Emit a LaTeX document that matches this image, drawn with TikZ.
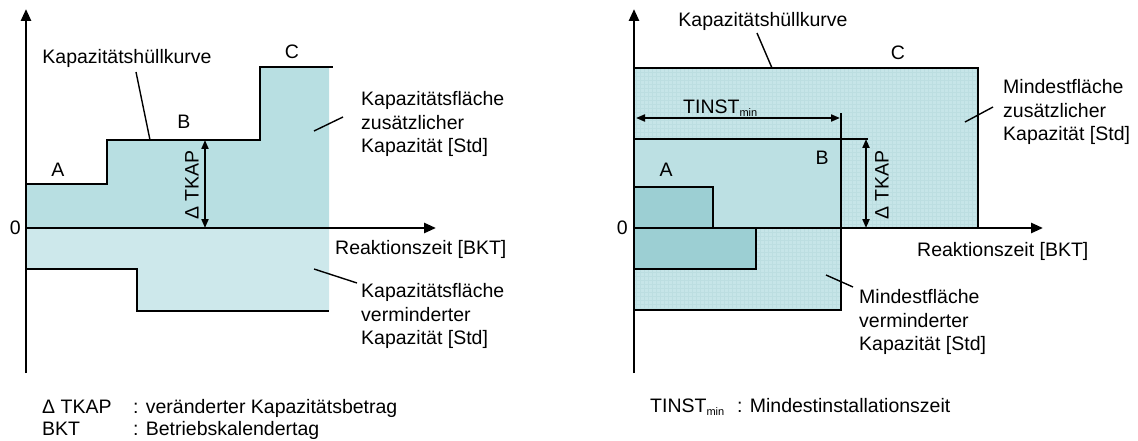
\documentclass[tikz,border=0pt]{standalone}
\usepackage{fontspec}
\setmainfont{Liberation Sans}
\usetikzlibrary{arrows.meta}
\definecolor{flaecheoben}{RGB}{184,223,226}
\definecolor{flaecheunten}{RGB}{205,232,235}
\definecolor{rasterfl}{RGB}{198,229,232}
\definecolor{rasterlin}{RGB}{188,222,225}
\definecolor{flaecheB}{RGB}{188,224,227}
\definecolor{flaecheA}{RGB}{156,207,211}

\begin{document}
\begin{tikzpicture}[x=1pt,y=-1pt]
\tikzstyle{every node}+=[inner sep=0pt,font=\fontsize{19.5}{23.5}\selectfont]
\tikzstyle{achse}=[line width=2.6pt,-{Triangle[length=12pt,width=10pt]}]
\tikzstyle{kurve}=[line width=2pt]
\tikzstyle{rahmen}=[line width=1.6pt]
\tikzstyle{zeiger}=[line width=1.4pt]
\tikzstyle{mass}=[line width=2pt,{Triangle[length=9pt,width=7pt]}-{Triangle[length=9pt,width=7pt]}]
\tikzstyle{mtxt}=[align=left,anchor=west]
\useasboundingbox (0,0) rectangle (1138,441);
\fill [flaecheoben] (26,228) -- (26,184) -- (107,184) -- (107,140) -- (260,140) -- (260,67) -- (329,67) -- (329,228) -- cycle;
\fill [flaecheunten] (26,228) -- (26,269) -- (137,269) -- (137,311) -- (329,311) -- (329,228) -- cycle;
\draw [kurve] (26,184) -- (107,184) -- (107,140) -- (260,140) -- (260,67) -- (333,67);
\draw [kurve] (26,269) -- (137,269) -- (137,311) -- (329,311);
\coordinate (lyu) at (26,373);
\coordinate (lyo) at (26,9);
\coordinate (lx0) at (26,228);
\coordinate (lxe) at (436,228);
\draw [achse] (lyu) -- (lyo);
\draw [achse] (lx0) -- (lxe);
\coordinate (ltko) at (205,140);
\coordinate (ltku) at (205,228);
\draw [mass] (ltko) -- (ltku);
\node (lA) at (58,170) {A};
\node (lB) at (184,122) {B};
\node (lC) at (292,52) {C};
\node (lnull) [anchor=east] at (21,228) {0};
\node (lhuelle) [anchor=base] at (127,64) {Kapazitätshüllkurve};
\node (ldtkap) [rotate=90] at (192,185) {Δ TKAP};
\node (lzeit) [anchor=base west] at (335,254) {Reaktionszeit [BKT]};
\node (lzus) [mtxt] at (361,124) {Kapazitätsfläche\\zusätzlicher\\Kapazität [Std]};
\node (lverm) [mtxt] at (361,316) {Kapazitätsfläche\\verminderter\\Kapazität [Std]};
\coordinate (lh1) at (136,72);
\coordinate (lh2) at (150,140);
\draw [zeiger] (lh1) -- (lh2);
\coordinate (lz1) at (314,131);
\coordinate (lz2) at (343,117);
\draw [zeiger] (lz1) -- (lz2);
\coordinate (lv1) at (314,269);
\coordinate (lv2) at (357,283);
\draw [zeiger] (lv1) -- (lv2);
\node (leg1a) [anchor=base west] at (42,413) {Δ TKAP};
\node (leg1b) [anchor=base west] at (133,413) {: veränderter Kapazitätsbetrag};
\node (leg2a) [anchor=base west] at (42,435) {BKT};
\node (leg2b) [anchor=base west] at (133,435) {: Betriebskalendertag};
\fill [rasterfl] (634,68) rectangle (978,228);
\draw [rasterlin,line width=0.25pt,step=4pt] (634,228) grid (978,68);
\draw [rahmen] (634,68) rectangle (978,228);
\fill [rasterfl] (634,228) rectangle (841,310);
\draw [rasterlin,line width=0.25pt,step=4pt] (634,310) grid (841,228);
\draw [rahmen] (634,228) rectangle (841,310);
\draw [rahmen,fill=flaecheB] (634,139) rectangle (841,228);
\draw [rahmen] (841,139) -- (841,113);
\draw [rahmen] (841,139) -- (868,139);
\draw [rahmen,fill=flaecheA] (634,187) rectangle (713,228);
\draw [rahmen,fill=flaecheA] (634,228) rectangle (756,269);
\draw [kurve] (634,68) -- (978,68);
\coordinate (ryu) at (634,373);
\coordinate (ryo) at (634,9);
\coordinate (rx0) at (634,228);
\coordinate (rxe) at (1043,228);
\draw [achse] (ryu) -- (ryo);
\draw [achse] (rx0) -- (rxe);
\coordinate (rtl) at (636,118);
\coordinate (rtr) at (840,118);
\draw [mass] (rtl) -- (rtr);
\coordinate (rtko) at (866,139);
\coordinate (rtku) at (866,228);
\draw [mass] (rtko) -- (rtku);
\node (rA) at (666,170) {A};
\node (rB) at (822,158) {B};
\node (rC) at (898,53) {C};
\node (rnull) [anchor=east] at (628,228) {0};
\node (rhuelle) [anchor=base] at (763,27) {Kapazitätshüllkurve};
\node (rtinst) [anchor=base west] at (683,114) {TINST\raisebox{-3pt}{\fontsize{11}{11}\selectfont min}};
\node (rdtkap) [rotate=90] at (882,185) {Δ TKAP};
\node (rzeit) [anchor=base west] at (917,256) {Reaktionszeit [BKT]};
\node (rzus) [mtxt] at (1003,112) {Mindestfläche\\zusätzlicher\\Kapazität [Std]};
\node (rverm) [mtxt] at (859,322) {Mindestfläche\\verminderter\\Kapazität [Std]};
\coordinate (rh1) at (757,33);
\coordinate (rh2) at (772,68);
\draw [zeiger] (rh1) -- (rh2);
\coordinate (rz1) at (965,122);
\coordinate (rz2) at (993,107);
\draw [zeiger] (rz1) -- (rz2);
\coordinate (rv1) at (826,275);
\coordinate (rv2) at (853,287);
\draw [zeiger] (rv1) -- (rv2);
\node (leg3a) [anchor=base west] at (650,412) {TINST\raisebox{-3pt}{\fontsize{11}{11}\selectfont min}};
\node (leg3b) [anchor=base west] at (737,412) {: Mindestinstallationszeit};
\end{tikzpicture}
\end{document}
